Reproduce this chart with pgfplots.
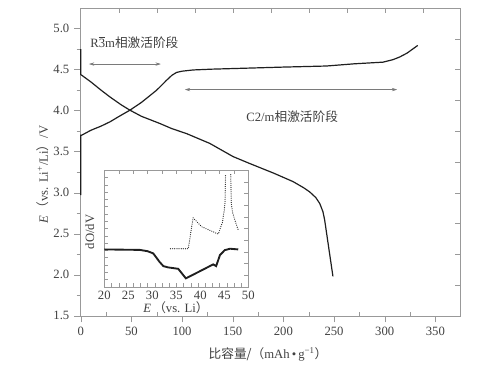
\documentclass[border=0pt]{standalone}
\usepackage{pgfplots}
\pgfplotsset{compat=1.18}
\usepackage{fontspec}
\setmainfont{Liberation Serif}
\newfontfamily\cjkfont{Noto Sans CJK SC}
\newcommand{\cjk}[1]{{\cjkfont #1}}
\usetikzlibrary{arrows.meta}
\definecolor{axgray}{gray}{0.6}
\definecolor{txt}{gray}{0.25}
\definecolor{crv}{gray}{0.12}
\begin{document}
\begin{tikzpicture}[font=\fontsize{9.5}{11}\selectfont]
\path[use as bounding box] (-60.5pt,-40.7pt) rectangle (313.7pt,236.8pt);
% overlay: top and right ticks
\begin{axis}[at={(0,0)}, anchor=south west, scale only axis, width=285pt, height=230.8pt,
  xmin=0, xmax=375, ymin=1.5, ymax=5.25,
  axis line style={axgray}, tick style={axgray},
  xtick={37.5,75,112.5,150,187.5,225,262.5,300,337.5}, xticklabels={},
  ytick={1.875,2.25,2.625,3.0,3.375,3.75,4.125,4.5,4.875}, yticklabels={},
  xtick pos=top, ytick pos=right, tick align=inside, major tick length=4pt]
\end{axis}
% overlay: bottom minor ticks
\begin{axis}[at={(0,0)}, anchor=south west, scale only axis, width=285pt, height=230.8pt,
  xmin=0, xmax=375, ymin=1.5, ymax=5.25,
  axis line style={axgray}, tick style={axgray},
  xtick={25,75,125,175,225,275,325}, xticklabels={}, ytick=\empty,
  xtick pos=bottom, tick align=inside, major tick length=2.5pt]
\end{axis}
% main axis
\begin{axis}[at={(0,0)}, anchor=south west, scale only axis, width=285pt, height=230.8pt,
  xmin=0, xmax=375, ymin=1.5, ymax=5.25,
  axis line style={axgray}, tick style={axgray},
  xtick={0,50,...,350}, ytick={1.5,2.0,...,5.0},
  yticklabel style={/pgf/number format/.cd,fixed,fixed zerofill,precision=1},
  /pgf/number format/assume math mode=true,
  minor y tick num=1,
  xtick pos=bottom, ytick pos=left, tick align=outside,
  major tick length=5pt, minor tick length=3pt,
  ticklabel style={text=txt},
  xlabel={\cjk{比容量/（}mAh\,•\,g\textsuperscript{−1}\cjk{）}},
  ylabel={\textit{E}\,\cjk{（}vs. Li\textsuperscript{+}/Li\cjk{）}/V},
  xlabel style={at={(axis description cs:0.493,-0.1245)}, anchor=center, text=txt},
  ylabel style={at={(axis description cs:-0.099,0.458)}, anchor=center, text=txt},
  clip=false]
\addplot[crv, line width=0.9pt] coordinates {
(0,2.97)(0,3.70)(1,3.70)(10,3.76)(20,3.81)(28.9,3.863)(38,3.93)(48.6,4.005)(60,4.10)
(74.9,4.248)(80,4.31)(84.7,4.369)(90,4.43)(94.6,4.465)(100,4.48)(110.9,4.495)(130,4.505)
(166.8,4.518)(200,4.53)(242.4,4.543)(270,4.57)(298.2,4.59)(308,4.62)(314.6,4.652)
(322,4.70)(332.6,4.794)};
\addplot[crv, line width=0.9pt] coordinates {
(0,4.75)(0,4.44)(10,4.35)(20,4.25)(28.9,4.166)(40,4.07)(48.6,4.005)(60,3.93)(78.1,3.843)
(90,3.78)(104.4,3.72)(127.4,3.6)(150.3,3.44)(166.8,3.355)(190,3.24)(209.5,3.135)(220,3.06)
(225.9,3.01)(232,2.94)(235.8,2.87)(239,2.77)(240.7,2.67)(248.9,1.98)};
\node[text=txt] at (axis cs:53,4.834) {R$\overline{\mbox{3}}$m\cjk{相激活阶段}};
\node[text=txt] at (axis cs:208.7,3.924) {C2/m\cjk{相激活阶段}};
\draw[axgray!80!black, {Stealth[length=4pt,width=2.5pt]}-{Stealth[length=4pt,width=2.5pt]}] (axis cs:8.2,4.567) -- (axis cs:79.1,4.567);
\draw[axgray!80!black, {Stealth[length=4pt,width=2.5pt]}-{Stealth[length=4pt,width=2.5pt]}] (axis cs:102.8,4.256) -- (axis cs:312.3,4.256);
\end{axis}
% inset overlay: top and right ticks
\begin{axis}[at={(17.7pt,21.75pt)}, anchor=south west, scale only axis, width=108pt, height=87.5pt,
  xmin=20, xmax=50, ymin=0, ymax=1,
  axis line style={axgray}, tick style={axgray},
  xtick={23,26,29,32,35,38,41,44,47}, xticklabels={},
  ytick={0.1,0.2,0.3,0.4,0.5,0.6,0.7,0.8,0.9}, yticklabels={},
  xtick pos=top, ytick pos=right, tick align=inside, major tick length=3pt]
\end{axis}
% inset main
\begin{axis}[at={(17.7pt,21.75pt)}, anchor=south west, scale only axis, width=108pt, height=87.5pt,
  xmin=20, xmax=50, ymin=0, ymax=1,
  axis line style={axgray}, tick style={axgray},
  xtick={20,21.5,...,50}, xticklabels={},
  extra x ticks={20,25,30,35,40,45,50},
  extra x tick labels={20,25,30,35,40,45,50},
  extra x tick style={major tick length=0pt},
  ytick={0.0625,0.125,...,0.95}, yticklabels={},
  xtick pos=bottom, ytick pos=left, tick align=inside, major tick length=2.5pt,
  /pgf/number format/assume math mode=true,
  ticklabel style={text=txt},
  xlabel={\textit{E}\,\cjk{（}vs. Li\cjk{）}},
  ylabel={dO/dV},
  xlabel style={at={(axis description cs:0.498,-0.18)}, anchor=center, text=txt},
  ylabel style={at={(axis description cs:-0.1,0.47)}, anchor=center, text=txt},
  ]
\addplot[crv, line width=1.4pt] coordinates {
(20,0.32)(27.4,0.316)(29,0.305)(30.2,0.286)(31.5,0.214)(32.3,0.177)(33.3,0.166)(35.4,0.154)
(37,0.072)(40,0.135)(42.7,0.192)(43.3,0.177)(44.1,0.272)(45.1,0.314)(46.2,0.326)(47.9,0.32)};
\addplot[crv, line width=0.9pt, line cap=round, dash pattern=on 0pt off 1.6pt] coordinates {
(33.8,0.326)(37.5,0.326)(38.5,0.591)(40.3,0.514)(43.75,0.452)(44.6,0.55)(45.0,0.66)(45.15,0.72)(45.25,0.96)};
\addplot[crv, line width=0.9pt, line cap=round, dash pattern=on 0pt off 1.6pt] coordinates {
(46.35,0.96)(46.45,0.72)(46.7,0.64)(47.2,0.572)(47.9,0.486)};
\end{axis}
\end{tikzpicture}
\end{document}
